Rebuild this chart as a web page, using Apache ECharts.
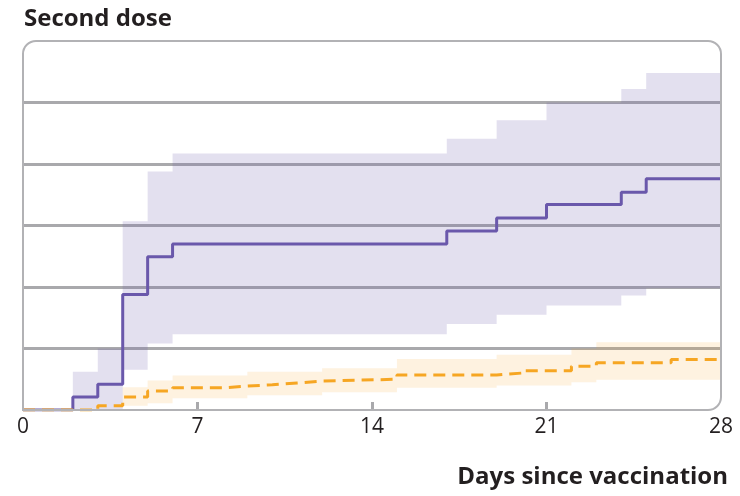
<!DOCTYPE html>
<html>
<head>
<meta charset="utf-8">
<style>
  html, body { margin: 0; padding: 0; background: #ffffff; }
  #chart { width: 740px; height: 496px; }
</style>
<script src="https://cdn.jsdelivr.net/npm/echarts@6/dist/echarts.min.js"></script>
</head>
<body>
<div id="chart"></div>
<script>
// Days since vaccination (step change points; last entry closes the final step)
const secondDays    = [0, 2, 3, 4, 5, 6, 17, 19, 21, 24, 25, 28];
const secondRate    = [0, 0.21, 0.42, 1.88, 2.49, 2.70, 2.91, 3.12, 3.34, 3.54, 3.76, 3.76];
const secondUpper   = [0, 0.62, 1.00, 3.07, 3.88, 4.17, 4.41, 4.71, 5.00, 5.22, 5.48, 5.48];
const secondLower   = [0, 0, 0, 0.655, 1.08, 1.23, 1.40, 1.55, 1.70, 1.86, 1.98, 1.98];

const compDays      = [0, 3, 4, 5, 6, 8, 9, 10, 11, 12, 15, 19, 20, 22, 23, 26, 28];
const compRate      = [0, 0.07, 0.21, 0.31, 0.36, 0.39, 0.41, 0.44, 0.47, 0.50, 0.57, 0.60, 0.64, 0.71, 0.77, 0.82, 0.82];

const compBandDays  = [0, 4, 5, 6, 9, 12, 15, 19, 22, 23, 24, 28];
const compUpper     = [0, 0.37, 0.48, 0.56, 0.62, 0.68, 0.83, 0.90, 1.00, 1.10, 1.10, 1.10];
const compLower     = [0, 0.07, 0.11, 0.19, 0.24, 0.29, 0.36, 0.40, 0.45, 0.49, 0.49, 0.49];

const xTicks = [0, 7, 14, 21, 28];
const yMax = 6;

const PURPLE = '#6a58ab';
const ORANGE = '#f6a623';
const GRID_GREY = '#a9a9ac';
const FRAME_GREY = '#b2b2b5';
const FONT = '"Open Sans", "Noto Sans", sans-serif';

const pairs = (xs, ys) => xs.map((x, i) => [x, ys[i]]);

// Closed step polygon between an upper and a lower step function
function bandSeries(days, upper, lower, color) {
  return {
    type: 'custom',
    silent: true,
    z: 1,
    data: [[0]],
    renderItem: function (params, api) {
      const pts = [];
      for (let i = 0; i < days.length - 1; i++) {
        pts.push(api.coord([days[i], upper[i]]));
        pts.push(api.coord([days[i + 1], upper[i]]));
      }
      for (let i = days.length - 2; i >= 0; i--) {
        pts.push(api.coord([days[i + 1], lower[i]]));
        pts.push(api.coord([days[i], lower[i]]));
      }
      return { type: 'polygon', shape: { points: pts }, style: { fill: color } };
    }
  };
}

const chart = echarts.init(document.getElementById('chart'), null, { renderer: 'canvas' });

chart.setOption({
  animation: false,
  backgroundColor: '#ffffff',
  grid: { left: 23, right: 19, top: 41, bottom: 86 },
  title: [
    {
      text: 'Second dose', left: 19, top: 2,
      textStyle: { fontFamily: FONT, fontWeight: 'bold', fontSize: 24, color: '#231f20' }
    },
    {
      text: 'Days since vaccination', right: 7, top: 460,
      textStyle: { fontFamily: FONT, fontWeight: 'bold', fontSize: 24, color: '#231f20' }
    }
  ],
  xAxis: {
    type: 'value', min: 0, max: 28, interval: 7,
    axisLine: { show: false },
    axisTick: {
      show: true, inside: true, length: 8, customValues: [7, 14, 21],
      lineStyle: { color: GRID_GREY, width: 3 }
    },
    axisLabel: {
      customValues: xTicks, margin: 7,
      fontFamily: FONT, fontSize: 21, color: '#231f20'
    },
    splitLine: { show: false }
  },
  yAxis: {
    type: 'value', min: 0, max: yMax, interval: 1,
    axisLine: { show: false }, axisTick: { show: false }, axisLabel: { show: false },
    splitLine: { show: true, showMinLine: false, showMaxLine: false,
                 lineStyle: { color: GRID_GREY, width: 3 } }
  },
  series: [
    bandSeries(secondDays, secondUpper, secondLower, 'rgba(106, 88, 171, 0.19)'),
    bandSeries(compBandDays, compUpper, compLower, 'rgba(246, 166, 35, 0.14)'),
    {
      type: 'line', step: 'end', z: 3, symbol: 'none', silent: true,
      data: pairs(secondDays, secondRate),
      lineStyle: { color: PURPLE, width: 3 }
    },
    {
      type: 'line', step: 'end', z: 4, symbol: 'none', silent: true,
      data: pairs(compDays, compRate),
      lineStyle: { color: ORANGE, width: 3, type: [12, 7] }
    }
  ]
});

// Rounded plot frame following the axis extents
const p0 = chart.convertToPixel({ gridIndex: 0 }, [0, 0]);
const p1 = chart.convertToPixel({ gridIndex: 0 }, [28, yMax]);
chart.setOption({
  graphic: [{
    type: 'rect', silent: true, z: 10,
    shape: { x: p0[0], y: p1[1], width: p1[0] - p0[0], height: p0[1] - p1[1], r: [13, 13, 13, 0] },
    style: { fill: 'none', stroke: FRAME_GREY, lineWidth: 2 }
  }]
});
</script>
</body>
</html>
